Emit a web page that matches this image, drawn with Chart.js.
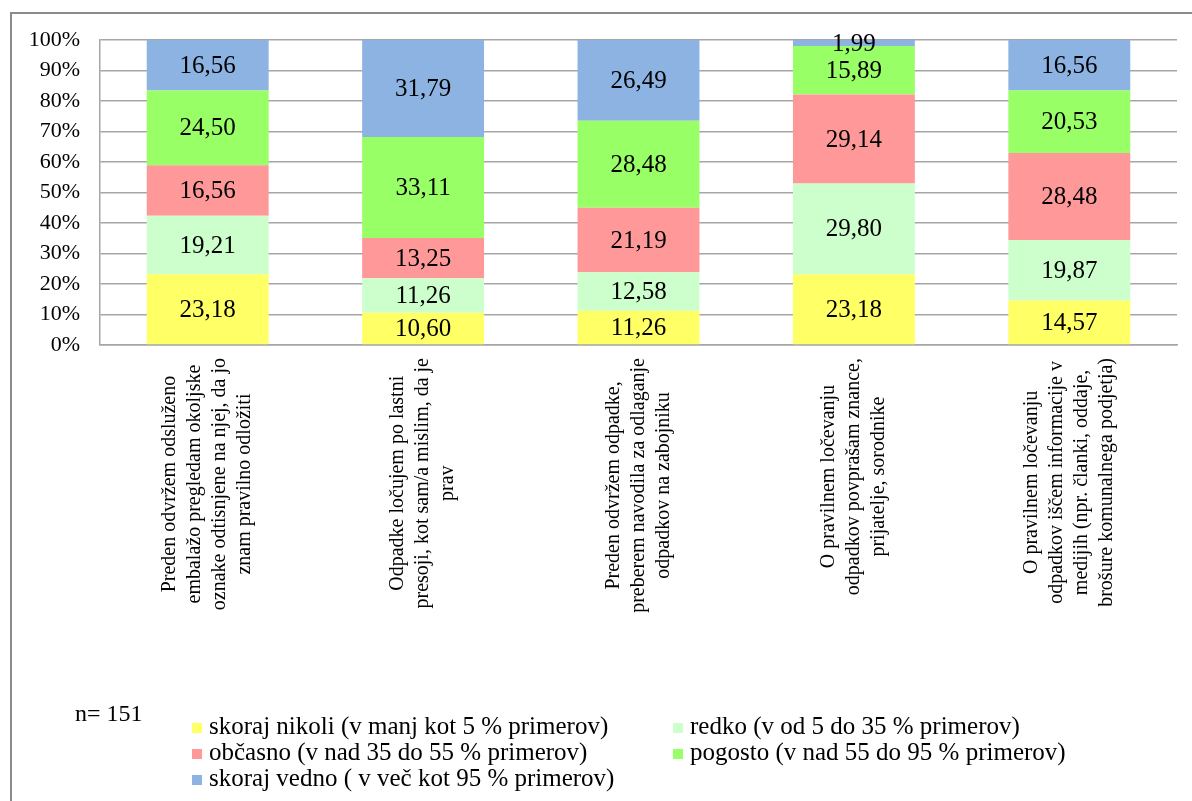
<!DOCTYPE html>
<html lang="sl">
<head>
<meta charset="UTF-8">
<title>Ločevanje odpadkov</title>
<script src="https://cdn.jsdelivr.net/npm/chart.js@4.4.1/dist/chart.umd.min.js"></script>
<style>
    html, body { margin: 0; padding: 0; background: #fff; overflow: hidden; }
    #okvir { position: relative; width: 1192px; height: 801px; }
    #rob {
        position: absolute; left: 10px; top: 12px;
        width: 1300px; height: 900px;
        border: 2px solid #8a8a8a; box-sizing: border-box;
    }
    #graf { position: absolute; left: 0; top: 0; }
    .napis {
        position: absolute; white-space: nowrap; color: #000;
        font-family: 'Liberation Serif', 'Times New Roman', serif;
        font-size: 25px; line-height: 25px;
    }
    .kvadrat { position: absolute; width: 10px; height: 10px; }
</style>
</head>
<body>
<div id="okvir">
    <div id="rob"></div>
    <canvas id="graf" width="1192" height="801"></canvas>
    <div class="napis" id="vzorec" style="left: 75px; top: 701px; font-size: 24px;">n= 151</div>
    <div id="legenda"></div>
</div>

<script>
// Trditve (kategorije na osi x), razdeljene v vrstice
const trditve = [
    ['Preden odvržem odsluženo', 'embalažo pregledam okoljske', 'oznake odtisnjene na njej, da jo', 'znam pravilno odložiti'],
    ['Odpadke ločujem po lastni', 'presoji, kot sam/a mislim, da je', 'prav'],
    ['Preden odvržem odpadke,', 'preberem navodila za odlaganje', 'odpadkov na zabojniku'],
    ['O pravilnem ločevanju', 'odpadkov povprašam znance,', 'prijatelje, sorodnike'],
    ['O pravilnem ločevanju', 'odpadkov iščem informacije v', 'medijih (npr. članki, oddaje,', 'brošure komunalnega podjetja)']
];

// Deleži odgovorov (%)
const skorajNikoli = [23.18, 10.60, 11.26, 23.18, 14.57];
const redko        = [19.21, 11.26, 12.58, 29.80, 19.87];
const obcasno      = [16.56, 13.25, 21.19, 29.14, 28.48];
const pogosto      = [24.50, 33.11, 28.48, 15.89, 20.53];
const skorajVedno  = [16.56, 31.79, 26.49,  1.99, 16.56];

const imenaOdgovorov = [
    'skoraj nikoli (v manj kot 5 % primerov)',
    'redko (v od 5 do 35 % primerov)',
    'občasno (v nad 35 do 55 % primerov)',
    'pogosto (v nad 55 do 95 % primerov)',
    'skoraj vedno ( v več kot 95 % primerov)'
];
const barve = ['#FFFF66', '#CCFFCC', '#FF9999', '#99FF66', '#8DB3E2'];

const osY = [0, 10, 20, 30, 40, 50, 60, 70, 80, 90, 100];

const pisava = "'Liberation Serif', 'Times New Roman', serif";

// Vrednosti v sredini vsakega odseka, z decimalno vejico
const oznakeVrednosti = {
    id: 'oznakeVrednosti',
    afterDatasetsDraw(chart) {
        const ctx = chart.ctx;
        ctx.save();
        ctx.font = '25px ' + pisava;
        ctx.fillStyle = '#000';
        ctx.textAlign = 'center';
        ctx.textBaseline = 'middle';
        chart.data.datasets.forEach((ds, i) => {
            chart.getDatasetMeta(i).data.forEach((bar, j) => {
                const y = (bar.y + bar.base) / 2;
                ctx.fillText(ds.data[j].toFixed(2).replace('.', ','), bar.x, y + 1);
            });
        });
        ctx.restore();
    }
};

// Navpično zasukana imena kategorij, vrstice poravnane na sredino
const imenaKategorij = {
    id: 'imenaKategorij',
    afterDraw(chart) {
        const ctx = chart.ctx;
        const xScale = chart.scales.x;
        const vrh = chart.chartArea.bottom + 13;
        const razmik = 25;
        ctx.save();
        ctx.font = '20px ' + pisava;
        ctx.fillStyle = '#000';
        ctx.textAlign = 'center';
        ctx.textBaseline = 'middle';
        trditve.forEach((vrstice, i) => {
            const x = xScale.getPixelForTick(i);
            const najdaljsa = Math.max(...vrstice.map(v => ctx.measureText(v).width));
            ctx.save();
            ctx.translate(x, vrh + najdaljsa / 2);
            ctx.rotate(-Math.PI / 2);
            vrstice.forEach((v, k) => {
                ctx.fillText(v, 0, (k - (vrstice.length - 1) / 2) * razmik);
            });
            ctx.restore();
        });
        ctx.restore();
    }
};

const serije = [skorajNikoli, redko, obcasno, pogosto, skorajVedno];

new Chart(document.getElementById('graf'), {
    type: 'bar',
    data: {
        labels: trditve,
        datasets: serije.map((podatki, i) => ({
            label: imenaOdgovorov[i],
            data: podatki,
            backgroundColor: barve[i],
            borderWidth: 0,
            barPercentage: 0.566,
            categoryPercentage: 1
        }))
    },
    options: {
        responsive: false,
        animation: false,
        layout: { padding: { left: 0, top: 40, right: 15, bottom: 456 } },
        plugins: {
            legend: { display: false },
            tooltip: { enabled: false }
        },
        scales: {
            x: {
                stacked: true,
                grid: { display: false },
                border: { color: '#A6A6A6', width: 1.5 },
                ticks: { display: false },
                afterFit: (scale) => { scale.height = 0; }
            },
            y: {
                stacked: true,
                min: 0,
                max: 100,
                afterBuildTicks: (scale) => { scale.ticks = osY.map(v => ({ value: v })); },
                afterFit: (scale) => { scale.width = 100; },
                grid: { color: '#A6A6A6', lineWidth: 1.5, drawTicks: false },
                border: { color: '#A6A6A6', width: 1.5 },
                ticks: {
                    padding: 20,
                    color: '#000',
                    font: { family: pisava, size: 22 },
                    callback: (v) => v + '%'
                }
            }
        }
    },
    plugins: [oznakeVrednosti, imenaKategorij]
});

// Legenda v dveh stolpcih pod grafom
const legenda = document.getElementById('legenda');
const stolpci = [192, 673];
const vrstice = [734, 760, 786]; // osnovnice besedila
imenaOdgovorov.forEach((ime, i) => {
    const levo = stolpci[i % 2];
    const osnovnica = vrstice[Math.floor(i / 2)];
    const kvadrat = document.createElement('div');
    kvadrat.className = 'kvadrat';
    kvadrat.style.left = levo + 'px';
    kvadrat.style.top = (osnovnica - 11) + 'px';
    kvadrat.style.background = barve[i];
    legenda.appendChild(kvadrat);
    const napis = document.createElement('div');
    napis.className = 'napis';
    napis.style.left = (levo + 17) + 'px';
    napis.style.top = (osnovnica - 21) + 'px';
    napis.textContent = ime;
    legenda.appendChild(napis);
});
</script>
</body>
</html>
